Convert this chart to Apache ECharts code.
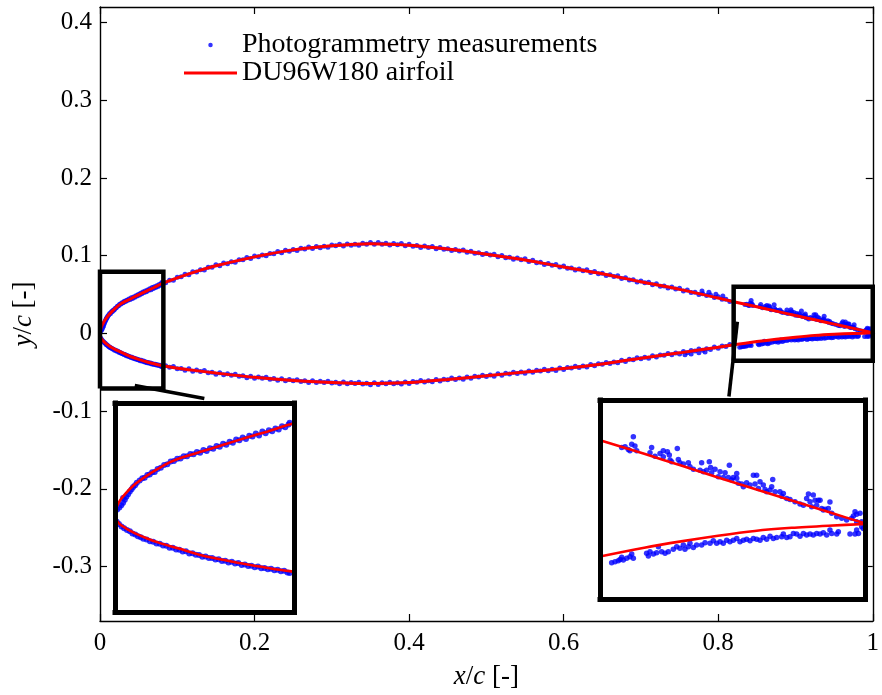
<!DOCTYPE html>
<html><head><meta charset="utf-8">
<script src="https://cdn.jsdelivr.net/npm/echarts@6/dist/echarts.min.js"></script>
<style>html,body{margin:0;padding:0;background:#fff}#c{width:882px;height:695px}</style>
</head><body><div id="c"></div>
<script>
// ---------- axes / ticks ----------
const xRange = [0, 1];
const yRange = [-0.37, 0.42];
const xTickValues = [0, 0.2, 0.4, 0.6, 0.8, 1];
const xTickLabels = ['0', '0.2', '0.4', '0.6', '0.8', '1'];
const yTickValues = [-0.3, -0.2, -0.1, 0, 0.1, 0.2, 0.3, 0.4];
const yTickLabels = ['-0.3', '-0.2', '-0.1', '0', '0.1', '0.2', '0.3', '0.4'];
const legendNames = ['Photogrammetry measurements', 'DU96W180 airfoil'];

// ---------- zoom windows (data ranges) ----------
const leftZoomX = [0, 0.082];
const leftZoomY = [-0.071, 0.0795];
const rightZoomX = [0.82, 1.0];
const rightZoomY = [-0.035, 0.06];
const leftConnector = [[0.045, -0.067], [0.135, -0.0837]];
const rightConnector = [[0.8248, 0.015], [0.8139, -0.0812]];

// ---------- DU96W180 airfoil ----------
const airfoilUpper = [[0,0],[0.0003,0.0030],[0.001,0.0058],[0.0025,0.0100],[0.005,0.0148],[0.0075,0.0188],[0.01,0.0222],[0.015,0.0277],[0.02,0.0325],[0.025,0.0368],[0.03,0.0400],[0.04,0.0448],[0.05,0.0497],[0.06,0.0545],[0.07,0.0591],[0.08,0.0640],[0.10,0.0715],[0.13,0.0814],[0.15,0.0870],[0.20,0.0985],[0.25,0.1075],[0.30,0.1128],[0.35,0.1155],[0.40,0.1135],[0.45,0.1085],[0.50,0.1020],[0.55,0.0946],[0.60,0.0855],[0.65,0.0768],[0.70,0.0665],[0.75,0.0567],[0.80,0.0455],[0.82,0.0408],[0.85,0.0343],[0.875,0.0287],[0.90,0.0230],[0.925,0.0175],[0.95,0.0120],[0.975,0.0065],[1.0,0.0010]];
const airfoilLower = [[0,0],[0.0003,-0.0030],[0.001,-0.0055],[0.0025,-0.0080],[0.005,-0.0105],[0.0075,-0.0127],[0.01,-0.0147],[0.015,-0.0180],[0.02,-0.0208],[0.025,-0.0232],[0.03,-0.0254],[0.04,-0.0300],[0.05,-0.0333],[0.06,-0.0364],[0.07,-0.0390],[0.08,-0.0413],[0.10,-0.0447],[0.13,-0.0485],[0.15,-0.0510],[0.20,-0.0565],[0.25,-0.0605],[0.30,-0.0630],[0.35,-0.0645],[0.40,-0.0632],[0.45,-0.0592],[0.50,-0.0545],[0.55,-0.0496],[0.60,-0.0452],[0.65,-0.0393],[0.70,-0.0318],[0.75,-0.0250],[0.80,-0.0178],[0.82,-0.0147],[0.85,-0.0105],[0.875,-0.0075],[0.90,-0.0048],[0.925,-0.0025],[0.95,-0.0010],[0.975,0.0000],[1.0,0.0008]];

// ---------- photogrammetry measurements ----------
const measUpperLE = [[0.0010,0.0030],[0.0020,0.0045],[0.0029,0.0060],[0.0037,0.0078],[0.0045,0.0100],[0.0052,0.0122],[0.0037,0.0112],[0.0060,0.0140],[0.0068,0.0160],[0.0076,0.0175],[0.0083,0.0192],[0.0092,0.0205],[0.0100,0.0222],[0.0113,0.0238],[0.0125,0.0255],[0.0136,0.0258],[0.0148,0.0278],[0.0159,0.0282],[0.0170,0.0298],[0.0182,0.0300],[0.0195,0.0320],[0.0210,0.0330],[0.0225,0.0350],[0.0240,0.0355],[0.0255,0.0375],[0.0270,0.0378],[0.0285,0.0395],[0.0300,0.0396],[0.0315,0.0413],[0.0330,0.0412],[0.0345,0.0428],[0.0360,0.0426],[0.0375,0.0443],[0.0390,0.0438],[0.0405,0.0458],[0.0420,0.0450],[0.0435,0.0470],[0.0450,0.0466],[0.0465,0.0486],[0.0480,0.0480],[0.0495,0.0502],[0.0510,0.0495],[0.0525,0.0516],[0.0540,0.0510],[0.0555,0.0532],[0.0570,0.0528],[0.0585,0.0547],[0.0600,0.0537],[0.0615,0.0560],[0.0630,0.0555],[0.0645,0.0575],[0.0660,0.0562],[0.0675,0.0590],[0.0690,0.0578],[0.0705,0.0600],[0.0720,0.0592],[0.0735,0.0612],[0.0750,0.0605],[0.0765,0.0628],[0.0780,0.0620],[0.0795,0.0640]];
const measUpperMid = [[0.080,0.0654],[0.085,0.0652],[0.090,0.0684],[0.095,0.0684],[0.100,0.0724],[0.105,0.0728],[0.110,0.0763],[0.115,0.0755],[0.120,0.0793],[0.125,0.0790],[0.130,0.0819],[0.135,0.0815],[0.140,0.0851],[0.145,0.0852],[0.150,0.0885],[0.155,0.0872],[0.160,0.0905],[0.165,0.0897],[0.170,0.0921],[0.175,0.0915],[0.180,0.0948],[0.185,0.0947],[0.190,0.0977],[0.195,0.0964],[0.200,0.0997],[0.205,0.0986],[0.210,0.1008],[0.215,0.0999],[0.220,0.1030],[0.225,0.1026],[0.230,0.1054],[0.235,0.1038],[0.240,0.1069],[0.245,0.1058],[0.250,0.1080],[0.255,0.1067],[0.260,0.1095],[0.265,0.1087],[0.270,0.1111],[0.275,0.1092],[0.280,0.1119],[0.285,0.1104],[0.290,0.1122],[0.295,0.1110],[0.300,0.1137],[0.305,0.1127],[0.310,0.1148],[0.315,0.1126],[0.320,0.1151],[0.325,0.1134],[0.330,0.1149],[0.335,0.1134],[0.340,0.1159],[0.345,0.1148],[0.350,0.1170],[0.355,0.1147],[0.360,0.1170],[0.365,0.1149],[0.370,0.1160],[0.375,0.1139],[0.380,0.1158],[0.385,0.1142],[0.390,0.1158],[0.395,0.1129],[0.400,0.1147],[0.405,0.1122],[0.410,0.1130],[0.415,0.1107],[0.420,0.1124],[0.425,0.1106],[0.430,0.1120],[0.435,0.1090],[0.440,0.1107],[0.445,0.1082],[0.450,0.1090],[0.455,0.1066],[0.460,0.1081],[0.465,0.1062],[0.470,0.1074],[0.475,0.1043],[0.480,0.1058],[0.485,0.1032],[0.490,0.1038],[0.495,0.1014],[0.500,0.1029],[0.505,0.1009],[0.510,0.1020],[0.515,0.0988],[0.520,0.1002],[0.525,0.0975],[0.530,0.0981],[0.535,0.0955],[0.540,0.0970],[0.545,0.0949],[0.550,0.0961],[0.555,0.0927],[0.560,0.0940],[0.565,0.0911],[0.570,0.0915],[0.575,0.0888],[0.580,0.0900],[0.585,0.0878],[0.590,0.0888],[0.595,0.0854],[0.600,0.0867],[0.605,0.0838],[0.610,0.0843],[0.615,0.0816],[0.620,0.0829],[0.625,0.0808],[0.630,0.0818],[0.635,0.0784],[0.640,0.0797],[0.645,0.0769],[0.650,0.0773],[0.655,0.0745],[0.660,0.0756],[0.665,0.0733],[0.670,0.0742],[0.675,0.0706],[0.680,0.0718],[0.685,0.0688],[0.690,0.0691],[0.695,0.0662],[0.700,0.0674],[0.705,0.0651],[0.710,0.0660],[0.715,0.0626],[0.720,0.0638],[0.725,0.0608],[0.730,0.0611],[0.735,0.0583],[0.740,0.0596],[0.745,0.0573],[0.750,0.0582],[0.755,0.0546],[0.760,0.0558],[0.765,0.0527],[0.770,0.0529],[0.775,0.0501],[0.780,0.0512],[0.785,0.0488],[0.790,0.0496],[0.795,0.0461],[0.800,0.0472],[0.805,0.0440],[0.810,0.0441],[0.815,0.0412],[0.779,0.0545],[0.788,0.0530],[0.797,0.0505],[0.806,0.0480]];
const measUpperTE = [[0.8347,0.0373],[0.8370,0.0377],[0.8392,0.0364],[0.8415,0.0389],[0.8426,0.0424],[0.8437,0.0380],[0.8449,0.0358],[0.8403,0.0358],[0.8539,0.0348],[0.8550,0.0373],[0.8573,0.0332],[0.8607,0.0345],[0.8629,0.0358],[0.8629,0.0329],[0.8657,0.0353],[0.8670,0.0337],[0.8675,0.0313],[0.8686,0.0305],[0.8724,0.0369],[0.8731,0.0316],[0.8742,0.0300],[0.8765,0.0294],[0.8799,0.0300],[0.8810,0.0281],[0.8833,0.0270],[0.8878,0.0265],[0.8889,0.0300],[0.8901,0.0257],[0.8923,0.0265],[0.8941,0.0305],[0.8950,0.0278],[0.8957,0.0253],[0.8980,0.0269],[0.9002,0.0234],[0.9014,0.0257],[0.9036,0.0230],[0.9048,0.0253],[0.9070,0.0230],[0.9077,0.0289],[0.9093,0.0218],[0.9104,0.0230],[0.9127,0.0226],[0.9127,0.0249],[0.9138,0.0202],[0.9161,0.0199],[0.9172,0.0186],[0.9194,0.0205],[0.9217,0.0194],[0.9240,0.0241],[0.9262,0.0241],[0.9251,0.0199],[0.9274,0.0178],[0.9285,0.0210],[0.9307,0.0194],[0.9319,0.0173],[0.9330,0.0162],[0.9353,0.0170],[0.9364,0.0186],[0.9371,0.0221],[0.9387,0.0162],[0.9420,0.0162],[0.9432,0.0141],[0.9443,0.0154],[0.9466,0.0130],[0.9488,0.0125],[0.9522,0.0114],[0.9556,0.0103],[0.9579,0.0098],[0.9601,0.0130],[0.9613,0.0151],[0.9624,0.0114],[0.9635,0.0090],[0.9646,0.0146],[0.9658,0.0122],[0.9669,0.0098],[0.9680,0.0122],[0.9692,0.0122],[0.9703,0.0082],[0.9714,0.0075],[0.9726,0.0078],[0.9748,0.0082],[0.9759,0.0113],[0.9771,0.0059],[0.9805,0.0043],[0.9839,0.0035],[0.9872,0.0027],[0.9906,0.0035],[0.9918,0.0046],[0.9929,0.0067],[0.9940,0.0055],[0.9963,0.0059],[0.9974,0.0019],[0.9940,0.0019]];
const measLowerLE = [[0.0008,-0.0058],[0.0018,-0.0075],[0.0030,-0.0092],[0.0042,-0.0104],[0.0055,-0.0118],[0.0068,-0.0127],[0.0080,-0.0142],[0.0093,-0.0150],[0.0105,-0.0163],[0.0118,-0.0170],[0.0130,-0.0180],[0.0145,-0.0186],[0.0160,-0.0198],[0.0175,-0.0202],[0.0190,-0.0215],[0.0205,-0.0216],[0.0220,-0.0228],[0.0235,-0.0230],[0.0250,-0.0244],[0.0265,-0.0245],[0.0280,-0.0258],[0.0295,-0.0260],[0.0310,-0.0272],[0.0325,-0.0270],[0.0340,-0.0286],[0.0355,-0.0284],[0.0370,-0.0296],[0.0385,-0.0297],[0.0400,-0.0310],[0.0415,-0.0308],[0.0430,-0.0318],[0.0445,-0.0318],[0.0460,-0.0330],[0.0475,-0.0328],[0.0490,-0.0340],[0.0505,-0.0338],[0.0520,-0.0350],[0.0535,-0.0346],[0.0550,-0.0358],[0.0565,-0.0355],[0.0580,-0.0368],[0.0595,-0.0366],[0.0610,-0.0376],[0.0625,-0.0374],[0.0640,-0.0385],[0.0655,-0.0380],[0.0670,-0.0392],[0.0685,-0.0390],[0.0700,-0.0400],[0.0715,-0.0396],[0.0730,-0.0407],[0.0745,-0.0403],[0.0760,-0.0414],[0.0775,-0.0410],[0.0790,-0.0422]];
const measLowerMid = [[0.080,-0.0427],[0.085,-0.0415],[0.090,-0.0435],[0.095,-0.0425],[0.100,-0.0456],[0.105,-0.0450],[0.110,-0.0475],[0.115,-0.0456],[0.120,-0.0485],[0.125,-0.0471],[0.130,-0.0490],[0.135,-0.0478],[0.140,-0.0507],[0.145,-0.0500],[0.150,-0.0525],[0.155,-0.0506],[0.160,-0.0533],[0.165,-0.0519],[0.170,-0.0537],[0.175,-0.0525],[0.180,-0.0552],[0.185,-0.0545],[0.190,-0.0569],[0.195,-0.0550],[0.200,-0.0577],[0.205,-0.0561],[0.210,-0.0578],[0.215,-0.0564],[0.220,-0.0590],[0.225,-0.0581],[0.230,-0.0604],[0.235,-0.0583],[0.240,-0.0609],[0.245,-0.0593],[0.250,-0.0610],[0.255,-0.0595],[0.260,-0.0619],[0.265,-0.0609],[0.270,-0.0630],[0.275,-0.0608],[0.280,-0.0632],[0.285,-0.0615],[0.290,-0.0630],[0.295,-0.0615],[0.300,-0.0639],[0.305,-0.0628],[0.310,-0.0648],[0.315,-0.0625],[0.320,-0.0648],[0.325,-0.0630],[0.330,-0.0644],[0.335,-0.0628],[0.340,-0.0651],[0.345,-0.0640],[0.350,-0.0660],[0.355,-0.0635],[0.360,-0.0656],[0.365,-0.0635],[0.370,-0.0647],[0.375,-0.0627],[0.380,-0.0647],[0.385,-0.0633],[0.390,-0.0651],[0.395,-0.0624],[0.400,-0.0644],[0.405,-0.0620],[0.410,-0.0629],[0.415,-0.0607],[0.420,-0.0625],[0.425,-0.0608],[0.430,-0.0623],[0.435,-0.0594],[0.440,-0.0612],[0.445,-0.0588],[0.450,-0.0597],[0.455,-0.0574],[0.460,-0.0592],[0.465,-0.0574],[0.470,-0.0588],[0.475,-0.0559],[0.480,-0.0576],[0.485,-0.0551],[0.490,-0.0559],[0.495,-0.0537],[0.500,-0.0554],[0.505,-0.0536],[0.510,-0.0550],[0.515,-0.0520],[0.520,-0.0537],[0.525,-0.0512],[0.530,-0.0521],[0.535,-0.0498],[0.540,-0.0515],[0.545,-0.0497],[0.550,-0.0511],[0.555,-0.0482],[0.560,-0.0499],[0.565,-0.0475],[0.570,-0.0483],[0.575,-0.0461],[0.580,-0.0479],[0.585,-0.0461],[0.590,-0.0476],[0.595,-0.0446],[0.600,-0.0464],[0.605,-0.0438],[0.610,-0.0445],[0.615,-0.0421],[0.620,-0.0437],[0.625,-0.0419],[0.630,-0.0432],[0.635,-0.0401],[0.640,-0.0417],[0.645,-0.0391],[0.650,-0.0398],[0.655,-0.0373],[0.660,-0.0387],[0.665,-0.0367],[0.670,-0.0378],[0.675,-0.0346],[0.680,-0.0360],[0.685,-0.0333],[0.690,-0.0338],[0.695,-0.0313],[0.700,-0.0327],[0.705,-0.0307],[0.710,-0.0319],[0.715,-0.0288],[0.720,-0.0303],[0.725,-0.0276],[0.730,-0.0282],[0.735,-0.0257],[0.740,-0.0273],[0.745,-0.0253],[0.750,-0.0265],[0.755,-0.0233],[0.760,-0.0248],[0.765,-0.0221],[0.770,-0.0226],[0.775,-0.0201],[0.780,-0.0216],[0.785,-0.0196],[0.790,-0.0207],[0.795,-0.0175],[0.800,-0.0190],[0.805,-0.0162],[0.810,-0.0168],[0.815,-0.0142],[0.757,-0.0275],[0.765,-0.0265],[0.775,-0.0250],[0.783,-0.0240]];
const measLowerTE = [[0.8279,-0.0177],[0.8302,-0.0172],[0.8324,-0.0167],[0.8336,-0.0161],[0.8347,-0.0151],[0.8358,-0.0164],[0.8381,-0.0156],[0.8403,-0.0148],[0.8415,-0.0135],[0.8426,-0.0156],[0.8516,-0.0132],[0.8528,-0.0145],[0.8539,-0.0124],[0.8562,-0.0135],[0.8584,-0.0129],[0.8596,-0.0100],[0.8618,-0.0124],[0.8641,-0.0132],[0.8663,-0.0124],[0.8697,-0.0113],[0.8720,-0.0100],[0.8742,-0.0108],[0.8765,-0.0092],[0.8776,-0.0113],[0.8799,-0.0100],[0.8810,-0.0084],[0.8833,-0.0104],[0.8855,-0.0092],[0.8889,-0.0092],[0.8912,-0.0081],[0.8946,-0.0084],[0.8968,-0.0072],[0.8991,-0.0084],[0.9014,-0.0077],[0.9036,-0.0084],[0.9059,-0.0069],[0.9081,-0.0077],[0.9104,-0.0069],[0.9127,-0.0061],[0.9149,-0.0077],[0.9172,-0.0069],[0.9194,-0.0065],[0.9217,-0.0072],[0.9240,-0.0061],[0.9262,-0.0065],[0.9285,-0.0069],[0.9307,-0.0056],[0.9330,-0.0065],[0.9353,-0.0050],[0.9375,-0.0061],[0.9398,-0.0056],[0.9432,-0.0053],[0.9443,-0.0040],[0.9466,-0.0056],[0.9488,-0.0053],[0.9511,-0.0037],[0.9533,-0.0040],[0.9556,-0.0050],[0.9579,-0.0037],[0.9601,-0.0045],[0.9624,-0.0040],[0.9646,-0.0045],[0.9669,-0.0037],[0.9692,-0.0040],[0.9714,-0.0034],[0.9737,-0.0045],[0.9759,-0.0021],[0.9771,-0.0037],[0.9805,-0.0040],[0.9816,-0.0029],[0.9895,-0.0040],[0.9929,-0.0040],[0.9940,-0.0021],[0.9952,-0.0037],[0.9974,-0.0005],[0.9997,0.0003],[0.9985,-0.0013]];

// ---------- build ----------
const FONT = '"Liberation Serif","Times New Roman",serif';
const measAll = [].concat(measUpperLE, measUpperMid, measUpperTE, measLowerLE, measLowerMid, measLowerTE);
const airfoilLoop = airfoilUpper.slice().reverse().concat(airfoilLower.slice(1));
function rectPath(xr, yr) { return [[xr[0], yr[0]], [xr[1], yr[0]], [xr[1], yr[1]], [xr[0], yr[1]], [xr[0], yr[0]]]; }
function lbl(values, labels) { return v => { for (let i = 0; i < values.length; i++) if (Math.abs(values[i] - v) < 1e-9) return labels[i]; return ''; }; }

const BLUE = '#0000ff', RED = '#ff0000';

function mainX(pos, showLabel) {
  return {
    gridIndex: 0, type: 'value', min: xRange[0], max: xRange[1], position: pos,
    axisLine: { show: true, onZero: false, lineStyle: { color: '#000', width: 1.4 } },
    axisTick: { show: true, inside: true, length: 7, customValues: xTickValues, lineStyle: { color: '#000', width: 1.2 } },
    axisLabel: { show: showLabel, customValues: xTickValues, formatter: lbl(xTickValues, xTickLabels), color: '#000', fontFamily: FONT, fontSize: 25, margin: 10 },
    splitLine: { show: false },
    name: showLabel ? '{i|x}/{i|c} [-]' : '', nameLocation: 'middle', nameGap: 42,
    nameTextStyle: { color: '#000', fontFamily: FONT, fontSize: 27, rich: { i: { fontStyle: 'italic', fontFamily: FONT, fontSize: 27, color: '#000' } } }
  };
}
function mainY(pos, showLabel) {
  return {
    gridIndex: 0, type: 'value', min: yRange[0], max: yRange[1], position: pos,
    axisLine: { show: true, onZero: false, lineStyle: { color: '#000', width: 1.4 } },
    axisTick: { show: true, inside: true, length: 7, customValues: yTickValues, lineStyle: { color: '#000', width: 1.2 } },
    axisLabel: { show: showLabel, customValues: yTickValues, formatter: lbl(yTickValues, yTickLabels), color: '#000', fontFamily: FONT, fontSize: 25, margin: 8 },
    splitLine: { show: false },
    name: showLabel ? '{i|y}/{i|c} [-]' : '', nameLocation: 'middle', nameGap: 63,
    nameTextStyle: { color: '#000', fontFamily: FONT, fontSize: 27, rich: { i: { fontStyle: 'italic', fontFamily: FONT, fontSize: 27, color: '#000' } } }
  };
}
function insetAxis(grid, range, pos) {
  return {
    gridIndex: grid, type: 'value', min: range[0], max: range[1], position: pos, z: 30,
    axisLine: { show: true, onZero: false, lineStyle: { color: '#000', width: 5, cap: 'square' } },
    axisTick: { show: false }, axisLabel: { show: false }, splitLine: { show: false }
  };
}

const option = {
  animation: false,
  backgroundColor: '#fff',
  grid: [
    { left: 100, right: 3, top: 7, bottom: 72 },
    { left: 115, top: 403, width: 179, height: 209.5, show: true, backgroundColor: '#fff', borderWidth: 0, z: 20 },
    { left: 600, top: 400, width: 265.5, height: 199, show: true, backgroundColor: '#fff', borderWidth: 0, z: 20 }
  ],
  xAxis: [
    mainX('bottom', true), mainX('top', false),
    insetAxis(1, leftZoomX, 'bottom'), insetAxis(1, leftZoomX, 'top'),
    insetAxis(2, rightZoomX, 'bottom'), insetAxis(2, rightZoomX, 'top')
  ],
  yAxis: [
    mainY('left', true), mainY('right', false),
    insetAxis(1, leftZoomY, 'left'), insetAxis(1, leftZoomY, 'right'),
    insetAxis(2, rightZoomY, 'left'), insetAxis(2, rightZoomY, 'right')
  ],
  legend: {
    show: true, orient: 'vertical', left: 179, top: 26, itemWidth: 53, itemHeight: 4.5, itemGap: 0,
    selectedMode: false,
    textStyle: { fontFamily: FONT, fontSize: 28, color: '#000', lineHeight: 27 },
    data: [
      { name: legendNames[0], icon: 'circle' },
      { name: legendNames[1], icon: 'path://M0,0L53,0L53,3L0,3Z', itemStyle: { color: RED } }
    ]
  },
  series: [
    { type: 'scatter', name: legendNames[0], xAxisIndex: 0, yAxisIndex: 0, data: measAll, symbolSize: 5, itemStyle: { color: BLUE }, z: 2, silent: true },
    { type: 'line', name: legendNames[1], xAxisIndex: 0, yAxisIndex: 0, data: airfoilLoop, symbol: 'none', smooth: 0.25, lineStyle: { color: RED, width: 3 }, itemStyle: { color: RED }, z: 3, silent: true },
    { type: 'line', xAxisIndex: 0, yAxisIndex: 0, data: rectPath(leftZoomX, leftZoomY), symbol: 'none', clip: false, lineStyle: { color: '#000', width: 4.5, join: 'miter' }, z: 5, silent: true },
    { type: 'line', xAxisIndex: 0, yAxisIndex: 0, data: rectPath(rightZoomX, rightZoomY), symbol: 'none', clip: false, lineStyle: { color: '#000', width: 4.5, join: 'miter' }, z: 5, silent: true },
    { type: 'line', xAxisIndex: 0, yAxisIndex: 0, data: leftConnector, symbol: 'none', clip: false, lineStyle: { color: '#000', width: 3.5 }, z: 5, silent: true },
    { type: 'line', xAxisIndex: 0, yAxisIndex: 0, data: rightConnector, symbol: 'none', clip: false, lineStyle: { color: '#000', width: 3.5 }, z: 5, silent: true },
    { type: 'scatter', name: legendNames[0], xAxisIndex: 2, yAxisIndex: 2, data: measAll, symbolSize: 6, itemStyle: { color: BLUE }, z: 21, silent: true },
    { type: 'line', name: legendNames[1], xAxisIndex: 2, yAxisIndex: 2, data: airfoilLoop, symbol: 'none', smooth: 0.25, lineStyle: { color: RED, width: 2.6 }, itemStyle: { color: RED }, z: 22, silent: true },
    { type: 'scatter', name: legendNames[0], xAxisIndex: 4, yAxisIndex: 4, data: measAll, symbolSize: 5.5, itemStyle: { color: BLUE }, z: 21, silent: true },
    { type: 'line', name: legendNames[1], xAxisIndex: 4, yAxisIndex: 4, data: airfoilLoop, symbol: 'none', smooth: 0.25, lineStyle: { color: RED, width: 2.6 }, itemStyle: { color: RED }, z: 22, silent: true }
  ]
};
const chart = echarts.init(document.getElementById('c'), null, { renderer: 'canvas' });
chart.setOption(option);
</script></body></html>
